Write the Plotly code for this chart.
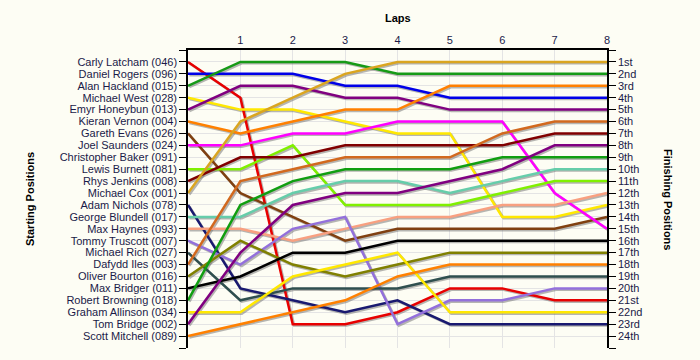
import plotly.graph_objects as go

laps = [0, 1, 2, 3, 4, 5, 6, 7, 8]
lap_ticks = [1, 2, 3, 4, 5, 6, 7, 8]

start_labels = [
    "Carly Latcham (046)", "Daniel Rogers (096)", "Alan Hackland (015)", "Michael West (028)",
    "Emyr Honeybun (013)", "Kieran Vernon (004)", "Gareth Evans (026)", "Joel Saunders (024)",
    "Christopher Baker (091)", "Lewis Burnett (081)", "Rhys Jenkins (008)", "Michael Cox (001)",
    "Adam Nichols (078)", "George Blundell (017)", "Max Haynes (093)", "Tommy Truscott (007)",
    "Michael Rich (027)", "Dafydd Iles (003)", "Oliver Bourton (016)", "Max Bridger (011)",
    "Robert Browning (018)", "Graham Allinson (034)", "Tom Bridge (002)", "Scott Mitchell (089)",
]
finish_labels = [
    "1st", "2nd", "3rd", "4th", "5th", "6th", "7th", "8th", "9th", "10th", "11th", "12th",
    "13th", "14th", "15th", "16th", "17th", "18th", "19th", "20th", "21st", "22nd", "23rd", "24th",
]

# positions per lap (lap 0 = grid)
carly_latcham     = [1, 4, 23, 23, 22, 20, 20, 21, 21]
daniel_rogers     = [2, 2, 2, 3, 3, 4, 4, 4, 4]
alan_hackland     = [3, 1, 1, 1, 2, 2, 2, 2, 2]
michael_west      = [4, 5, 5, 6, 7, 7, 14, 14, 13]
emyr_honeybun     = [5, 3, 3, 4, 4, 5, 5, 5, 5]
kieran_vernon     = [6, 7, 6, 5, 5, 3, 3, 3, 3]
gareth_evans      = [7, 12, 14, 16, 15, 15, 15, 15, 14]
joel_saunders     = [8, 8, 7, 7, 6, 6, 6, 12, 15]
lewis_burnett     = [10, 10, 8, 13, 13, 13, 12, 11, 11]
rhys_jenkins      = [11, 9, 9, 8, 8, 8, 8, 7, 7]
michael_cox       = [12, 6, 4, 2, 1, 1, 1, 1, 1]
adam_nichols      = [13, 20, 21, 22, 21, 23, 23, 23, 23]
george_blundell   = [14, 14, 12, 11, 11, 12, 11, 10, 10]
max_haynes        = [15, 15, 16, 15, 14, 14, 13, 13, 12]
tommy_truscott    = [16, 18, 15, 14, 23, 21, 21, 20, 20]
michael_rich      = [17, 21, 20, 20, 20, 19, 19, 19, 19]
dafydd_iles       = [18, 11, 10, 9, 9, 9, 7, 6, 6]
oliver_bourton    = [19, 16, 18, 19, 18, 17, 17, 17, 17]
max_bridger       = [20, 19, 17, 17, 16, 16, 16, 16, 16]
robert_browning   = [21, 13, 11, 10, 10, 10, 9, 9, 9]
graham_allinson   = [22, 22, 19, 18, 17, 22, 22, 22, 22]
tom_bridge        = [23, 17, 13, 12, 12, 11, 10, 8, 8]
scott_mitchell    = [24, 23, 22, 21, 19, 18, 18, 18, 18]

series = [
    ("Carly Latcham (046)", carly_latcham, "#E80000"),
    ("Daniel Rogers (096)", daniel_rogers, "#0000E8"),
    ("Alan Hackland (015)", alan_hackland, "#169A16"),
    ("Michael West (028)", michael_west, "#FFE800"),
    ("Emyr Honeybun (013)", emyr_honeybun, "#800080"),
    ("Kieran Vernon (004)", kieran_vernon, "#FF8000"),
    ("Gareth Evans (026)", gareth_evans, "#804010"),
    ("Joel Saunders (024)", joel_saunders, "#FF00FF"),
    ("Lewis Burnett (081)", lewis_burnett, "#80F000"),
    ("Rhys Jenkins (008)", rhys_jenkins, "#800000"),
    ("Michael Cox (001)", michael_cox, "#DAA520"),
    ("Adam Nichols (078)", adam_nichols, "#191970"),
    ("George Blundell (017)", george_blundell, "#66CDAA"),
    ("Max Haynes (093)", max_haynes, "#F8A080"),
    ("Tommy Truscott (007)", tommy_truscott, "#9370DB"),
    ("Michael Rich (027)", michael_rich, "#2F4F4F"),
    ("Dafydd Iles (003)", dafydd_iles, "#D2691E"),
    ("Oliver Bourton (016)", oliver_bourton, "#808000"),
    ("Max Bridger (011)", max_bridger, "#000000"),
    ("Robert Browning (018)", robert_browning, "#109E10"),
    ("Graham Allinson (034)", graham_allinson, "#FFE800"),
    ("Tom Bridge (002)", tom_bridge, "#800080"),
    ("Scott Mitchell (089)", scott_mitchell, "#FF8000"),
]

W, H = 700, 360
ML, MR, MT, MB = 188, 93, 50, 12
pw = W - ML - MR
ph = H - MT - MB
n_slots = len(start_labels) + 1
shadow_px = 1.4
dx = shadow_px * (len(laps) - 1) / pw
dy = shadow_px * n_slots / ph

BG = "#FDFDF4"
GRID = "#E4E4E4"
TXT = "#1A1A48"
FONT = "Liberation Sans, Arial, sans-serif"

fig = go.Figure()

# shadows on base axes (drawn below)
for name, pos, col in series:
    fig.add_trace(go.Scatter(x=laps, y=pos, mode="lines", xaxis="x", yaxis="y",
                             line=dict(color="rgba(110,110,110,0.5)", width=2.5),
                             hoverinfo="skip", showlegend=False))
# real lines on overlay axes
for name, pos, col in series:
    fig.add_trace(go.Scatter(x=laps, y=pos, mode="lines", xaxis="x2", yaxis="y2",
                             line=dict(color=col, width=2.5), name=name, showlegend=False))
# carrier for right axis
fig.add_trace(go.Scatter(x=[laps[0]], y=[1], mode="markers", xaxis="x2", yaxis="y3",
                         marker=dict(opacity=0), hoverinfo="skip", showlegend=False))

yvals = list(range(0, n_slots + 1))
left_text = [""] + start_labels + [""]
right_text = [""] + finish_labels + [""]

fig.update_layout(
    width=W, height=H,
    margin=dict(l=ML, r=MR, t=MT, b=MB, autoexpand=False),
    paper_bgcolor=BG, plot_bgcolor=BG,
    font=dict(family=FONT, size=11, color=TXT),
    xaxis=dict(visible=False, range=[laps[0] - dx, laps[-1] - dx], automargin=False),
    yaxis=dict(visible=False, range=[n_slots - dy, -dy], automargin=False),
    xaxis2=dict(overlaying="x", anchor="y2", side="top", range=[laps[0], laps[-1]],
                tickmode="array", tickvals=lap_ticks, ticktext=[str(v) for v in lap_ticks],
                showgrid=True, gridcolor=GRID, gridwidth=1, zeroline=False,
                showline=True, linecolor="#000000", linewidth=1.5, ticks="",
                tickfont=dict(size=11, color=TXT), automargin=False),
    yaxis2=dict(overlaying="y", anchor="x2", side="left", range=[n_slots, 0],
                tickmode="array", tickvals=yvals, ticktext=left_text,
                showgrid=True, gridcolor=GRID, gridwidth=1, zeroline=False,
                showline=True, linecolor="#000000", linewidth=1.5,
                ticks="outside", ticklen=7, tickcolor="#000000", tickwidth=1.2,
                tickfont=dict(size=11, color=TXT), automargin=False),
    yaxis3=dict(overlaying="y", anchor="x2", side="right", range=[n_slots, 0],
                tickmode="array", tickvals=yvals, ticktext=right_text,
                showgrid=False, zeroline=False,
                showline=True, linecolor="#000000", linewidth=1.5,
                ticks="outside", ticklen=7, tickcolor="#000000", tickwidth=1.2,
                tickfont=dict(size=11, color=TXT), automargin=False),
    annotations=[
        dict(text="<b>Laps</b>", xref="paper", yref="paper", x=0.5, y=1 + (MT - 18) / ph,
             showarrow=False, xanchor="center", yanchor="middle",
             font=dict(size=11, color="#000000", family=FONT)),
        dict(text="<b>Starting Positions</b>", xref="paper", yref="paper",
             x=(30 - ML) / pw, y=0.5, textangle=-90, showarrow=False,
             xanchor="center", yanchor="middle",
             font=dict(size=11, color="#000000", family=FONT)),
        dict(text="<b>Finishing Positions</b>", xref="paper", yref="paper",
             x=(668 - ML) / pw, y=0.5, textangle=90, showarrow=False,
             xanchor="center", yanchor="middle",
             font=dict(size=11, color="#000000", family=FONT)),
    ],
)

fig.write_html(
    "out.html",
    config={"displayModeBar": False},
    post_script="document.body.style.margin='0';document.body.style.background='" + BG + "';",
)
